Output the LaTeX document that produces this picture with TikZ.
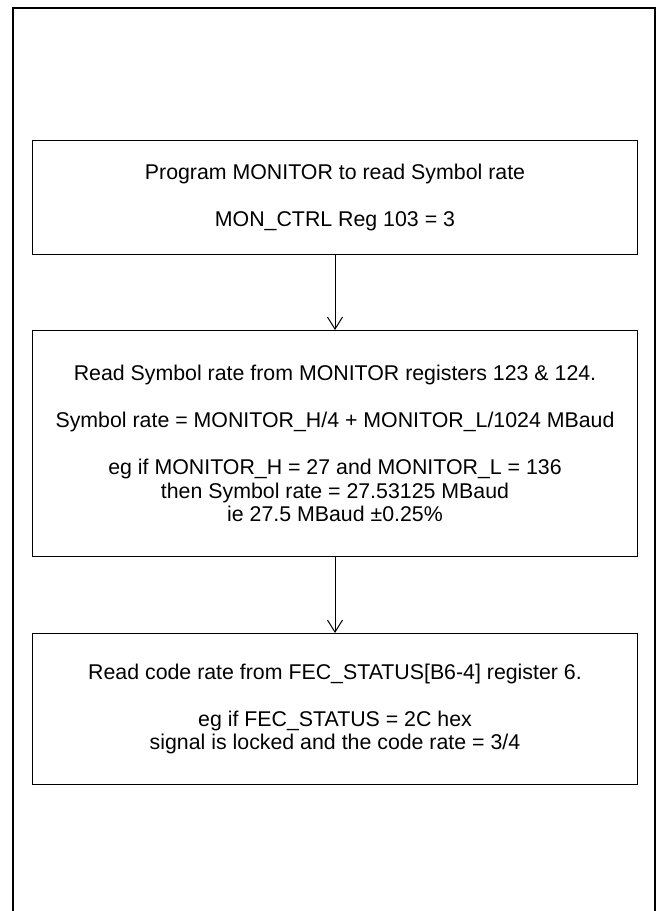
\documentclass[tikz,border=0pt]{standalone}
\usepackage{fontspec}
\setmainfont{Liberation Sans}
\usetikzlibrary{positioning,arrows.meta}

\begin{document}
\begin{tikzpicture}[
    stage/.style={draw, line width=0.75pt, minimum width=453.75pt, align=center,
      inner sep=0pt, font=\fontsize{16}{17.6}\selectfont},
    flow/.style={line width=0.75pt, -{Straight Barb[length=9pt,width=11.25pt]}}
  ]
  \useasboundingbox (0,0) rectangle (495pt,-683.25pt);
  \draw[line width=1.5pt] (9.75pt,-6pt) rectangle (491.25pt,-700pt);

  \node[stage, minimum height=85.5pt, anchor=north west] (monitor) at (24pt,-105pt)
    {Program MONITOR to read Symbol rate\\[17.6pt]MON\_CTRL Reg 103 = 3};
  \node[stage, minimum height=169.5pt, below=56.25pt of monitor] (symrate)
    {Read Symbol rate from MONITOR registers 123 \& 124.\\[17.6pt]
     Symbol rate = MONITOR\_H/4 + MONITOR\_L/1024 MBaud\\[17.6pt]
     eg if MONITOR\_H = 27 and MONITOR\_L = 136\\
     then Symbol rate = 27.53125 MBaud\\
     ie 27.5 MBaud ±0.25\%};
  \node[stage, minimum height=113.25pt, below=57pt of symrate] (coderate)
    {Read code rate from FEC\_STATUS[B6-4] register 6.\\[17.6pt]
     eg if FEC\_STATUS = 2C hex\\
     signal is locked and the code rate = 3/4};

  \draw[flow] (monitor) -- (symrate);
  \draw[flow] (symrate) -- (coderate);
\end{tikzpicture}
\end{document}
